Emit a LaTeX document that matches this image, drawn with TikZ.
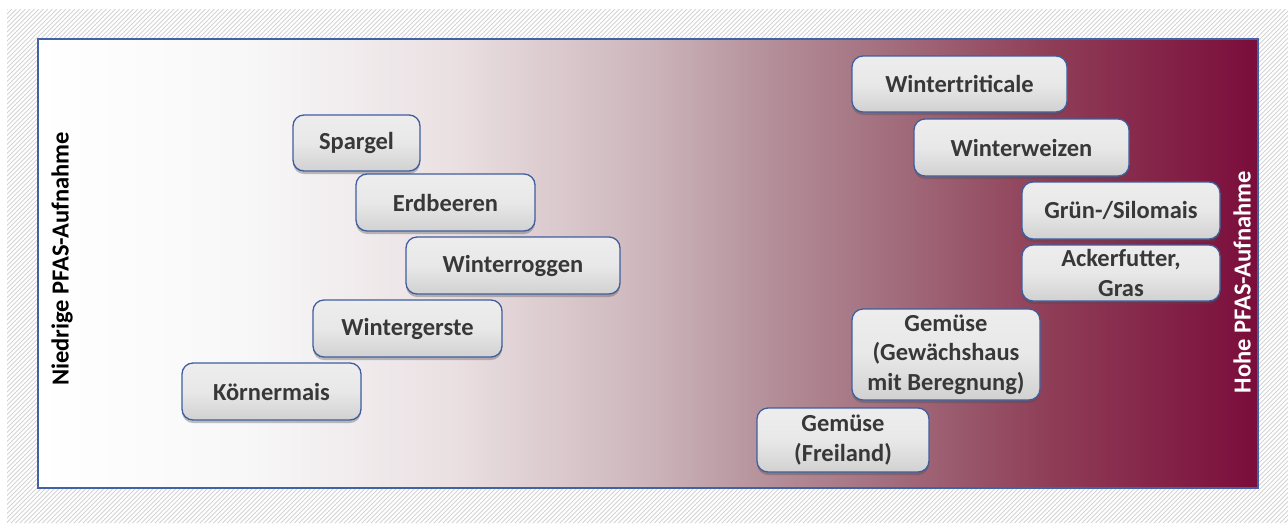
\documentclass[tikz,border=0pt]{standalone}
\usepackage{fontspec}
\setmainfont{Carlito}
\usetikzlibrary{shadows}

\definecolor{frameblue}{HTML}{4263A3}
\definecolor{boxblue}{HTML}{3F5E9E}
\definecolor{boxtext}{HTML}{383838}
\definecolor{hatch}{HTML}{D4D4D4}

% horizontal white-to-wine gradient; the useful part lies between 25bp and 75bp
\pgfdeclarehorizontalshading{uptake}{100bp}{%
  rgb(0bp)=(1,1,1);
  rgb(25bp)=(1,1,1);
  rgb(33.7bp)=(0.97,0.97,0.97);
  rgb(41.9bp)=(0.92,0.88,0.89);
  rgb(50.1bp)=(0.80,0.71,0.73);
  rgb(55.4bp)=(0.70,0.55,0.59);
  rgb(60.3bp)=(0.63,0.42,0.48);
  rgb(66.5bp)=(0.56,0.24,0.34);
  rgb(75bp)=(0.48,0.05,0.23);
  rgb(100bp)=(0.48,0.05,0.23)}

\tikzset{
  crop/.style={draw=boxblue, line width=1.3pt, rounded corners=11pt,
    top color=white!93!black, bottom color=white!82!black,
    middle color=white!91!black,
    drop shadow={shadow xshift=0pt, shadow yshift=-3pt, opacity=0.35, fill=black!70},
    text=boxtext, font=\bfseries\fontsize{24.5}{29.5}\selectfont,
    align=center, inner sep=0pt, outer sep=0pt},
  sidelabel/.style={font=\bfseries\fontsize{24.5}{28}\selectfont, rotate=90,
    inner sep=0pt}
}

\begin{document}
\begin{tikzpicture}[x=1pt, y=-1pt]
\useasboundingbox (0,0) rectangle (1288,523);

% hatched backdrop
\begin{scope}
  \clip (7,9) rectangle (1288,523);
  \foreach \i in {-520,-515.5,...,1300}
    \draw[hatch, line width=0.9pt] (\i,523) -- ++(514,-514);
\end{scope}

% gradient panel
\path[shading=uptake] (38,39) rectangle (1258,488);
\draw[frameblue, line width=1.6pt] (38,39) rectangle (1258,488);

% side captions
\node[sidelabel, text=black] (low) at (62,259) {Niedrige PFAS-Aufnahme};
\node[sidelabel, text=white] (high) at (1242,282) {Hohe PFAS-Aufnahme};

% crops with low uptake
\node[crop, minimum width=127pt, minimum height=56pt] (spargel) at (356.5,143) {Spargel};
\node[crop, minimum width=179pt, minimum height=57pt] (erdbeeren) at (445.5,202.5) {Erdbeeren};
\node[crop, minimum width=214pt, minimum height=57pt] (roggen) at (513,265.5) {Winterroggen};
\node[crop, minimum width=189pt, minimum height=57pt] (gerste) at (407.5,328.5) {Wintergerste};
\node[crop, minimum width=179pt, minimum height=57pt] (koernermais) at (271.5,391.5) {Körnermais};

% crops with high uptake
\node[crop, minimum width=215pt, minimum height=56pt] (triticale) at (959.5,84) {Wintertriticale};
\node[crop, minimum width=215pt, minimum height=57pt] (weizen) at (1021.5,147.5) {Winterweizen};
\node[crop, minimum width=198pt, minimum height=57pt] (silomais) at (1121,210.5) {Grün-/Silomais};
\node[crop, minimum width=198pt, minimum height=56pt] (ackerfutter) at (1121,273) {Ackerfutter,\\Gras};
\node[crop, minimum width=188pt, minimum height=91pt] (gewaechshaus) at (946,354.5) {Gemüse\\(Gewächshaus\\mit Beregnung)};
\node[crop, minimum width=172pt, minimum height=64pt] (freiland) at (843,440) {Gemüse\\(Freiland)};
\end{tikzpicture}
\end{document}
